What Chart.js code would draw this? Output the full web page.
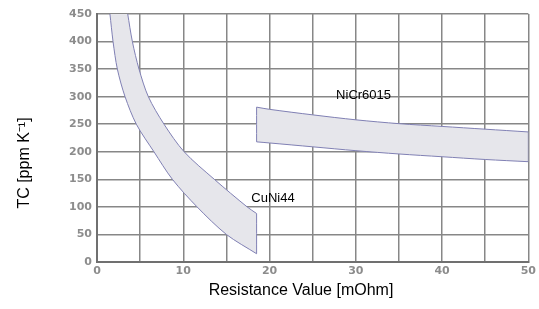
<!DOCTYPE html>
<html>
<head>
<meta charset="utf-8">
<script src="https://cdn.jsdelivr.net/npm/chart.js@4/dist/chart.umd.min.js"></script>
<style>
    html, body { margin: 0; padding: 0; background: #fff; }
</style>
</head>
<body>
<canvas id="myChart" width="539" height="309"></canvas>
<script>
// tick labels
const xTickLabels = [0, 10, 20, 30, 40, 50];
const yTickLabels = [0, 50, 100, 150, 200, 250, 300, 350, 400, 450];

// CuNi44 band (upper/right edge and lower/left edge)
const cuNiUpperX = [3.56, 4.1, 4.87, 5.95, 7.77, 10.1, 13.6, 17.4, 18.5];
const cuNiUpperY = [450, 400, 350, 300, 250, 200, 150, 100, 88];
const cuNiLowerX = [1.5, 1.86, 2.36, 3.25, 4.56, 6.6, 8.74, 11.6, 15.0, 18.5];
const cuNiLowerY = [450, 400, 350, 300, 250, 200, 150, 100, 50, 15];

// NiCr6015 band
const niCrX = [18.5, 20, 25, 30, 35, 40, 45, 50];
const niCrUpperY = [281, 277, 267, 258, 251, 246, 241, 236];
const niCrLowerY = [218, 216, 209, 202, 196, 191, 186, 182];

// band names, placed at data coords
const bandNames = ['CuNi44', 'NiCr6015'];
const bandNameX = [20.4, 30.9];
const bandNameY = [116, 303];

function pts(xs, ys) {
    return xs.map(function (x, i) { return { x: x, y: ys[i] }; });
}

// ends doubled so the curve keeps sharp corners
function edge(xs, ys) {
    const p = pts(xs, ys);
    return [p[0]].concat(p, [p[p.length - 1]]);
}

// outline of a band: one edge forward, the other one back
const cuNiShape = edge(cuNiUpperX, cuNiUpperY).concat(edge(cuNiLowerX, cuNiLowerY).reverse());
const niCrShape = edge(niCrX, niCrUpperY)
    .concat(edge(niCrX, niCrLowerY).reverse())
    .concat([{ x: niCrX[0], y: niCrUpperY[0] }]);

const textPlugin = {
    id: 'textos',
    afterDraw: function (chart) {
        const ctx = chart.ctx;
        const sx = chart.scales.x;
        const sy = chart.scales.y;
        ctx.save();
        ctx.fillStyle = '#000';
        ctx.textAlign = 'center';
        ctx.textBaseline = 'middle';
        ctx.font = '13px "Liberation Sans", Arial, sans-serif';
        for (let i = 0; i < bandNames.length; i++) {
            ctx.fillText(bandNames[i], sx.getPixelForValue(bandNameX[i]), sy.getPixelForValue(bandNameY[i]));
        }
        ctx.font = '16px "Liberation Sans", Arial, sans-serif';
        ctx.fillText('Resistance Value [mOhm]', 301, 291);
        ctx.translate(25, 163);
        ctx.rotate(-Math.PI / 2);
        ctx.fillText('TC [ppm K\u207B\u00B9]', 0, 0);
        ctx.restore();
    }
};

document.addEventListener('DOMContentLoaded', function () {
    var ctx = document.getElementById('myChart').getContext('2d');
    new Chart(ctx, {
        type: 'scatter',
        data: {
            datasets: [{
                label: 'CuNi44',
                data: cuNiShape,
                showLine: true,
                fill: 'shape',
                tension: 0.3,
                backgroundColor: '#e6e6eb',
                borderColor: '#8080b4',
                borderWidth: 1,
                pointRadius: 0
            }, {
                label: 'NiCr6015',
                data: niCrShape,
                showLine: true,
                fill: 'shape',
                tension: 0.3,
                backgroundColor: '#e6e6eb',
                borderColor: '#8080b4',
                borderWidth: 1,
                pointRadius: 0
            }]
        },
        options: {
            responsive: false,
            animation: false,
            devicePixelRatio: 1,
            layout: {
                padding: { top: 14, right: 9, left: 0, bottom: 0 }
            },
            plugins: {
                legend: { display: false },
                tooltip: { enabled: false }
            },
            scales: {
                x: {
                    type: 'linear',
                    min: 0,
                    max: 50,
                    afterFit: function (scale) { scale.height = 47; },
                    grid: { color: '#878787', lineWidth: 1.5, drawTicks: false },
                    border: { color: '#707070', width: 2 },
                    ticks: {
                        stepSize: 5,
                        autoSkip: false,
                        maxRotation: 0,
                        padding: 3,
                        color: '#8c8c8c',
                        font: { family: '"DejaVu Sans"', size: 11, weight: 'bold' },
                        callback: function (v) { return xTickLabels.includes(v) ? v : ''; }
                    }
                },
                y: {
                    min: 0,
                    max: 450,
                    afterFit: function (scale) { scale.width = 97; },
                    grid: { color: '#878787', lineWidth: 1.5, drawTicks: false },
                    border: { color: '#707070', width: 2 },
                    ticks: {
                        stepSize: 50,
                        autoSkip: false,
                        padding: 5,
                        color: '#8c8c8c',
                        font: { family: '"DejaVu Sans"', size: 11, weight: 'bold' },
                        callback: function (v) { return yTickLabels.includes(v) ? v : ''; }
                    }
                }
            }
        },
        plugins: [textPlugin]
    });
});
</script>
</body>
</html>
